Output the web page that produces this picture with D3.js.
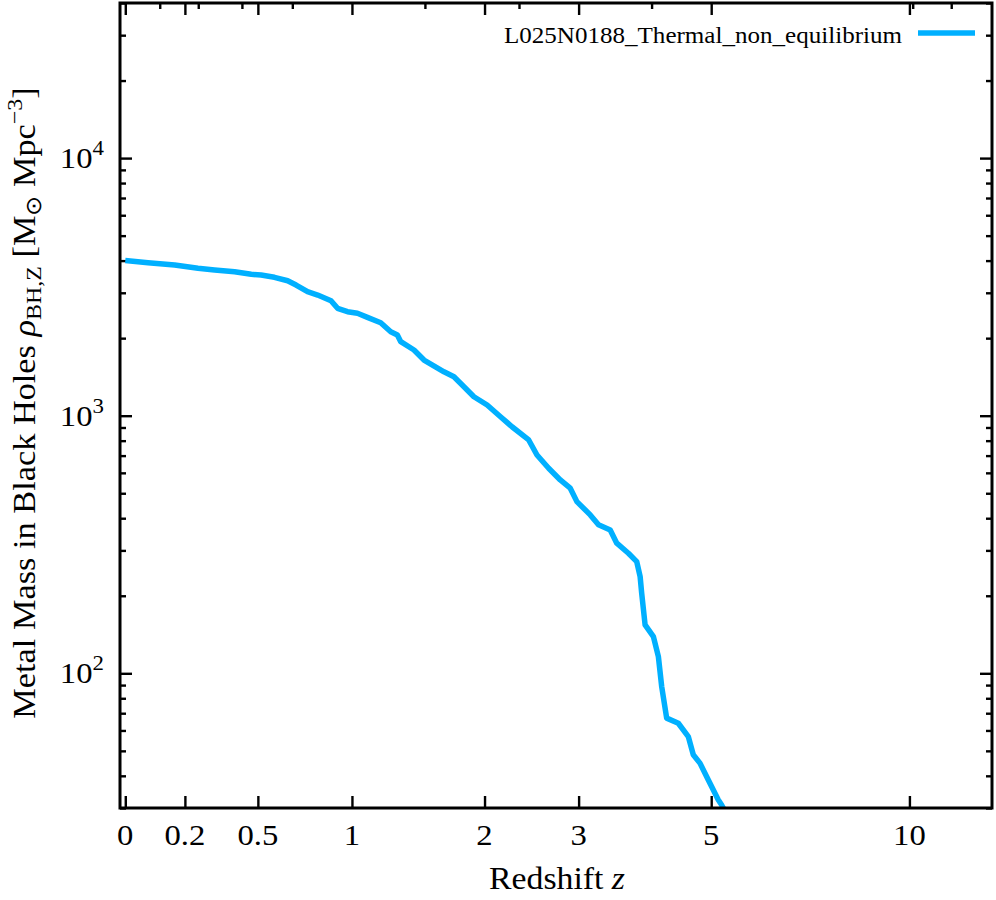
<!DOCTYPE html>
<html>
<head>
<meta charset="utf-8">
<script src="https://cdn.jsdelivr.net/npm/d3@7"></script>
<style>
  body { margin: 0; background: #fff; }
  svg { display: block; font-family: "Liberation Serif", "Times New Roman", serif; }
  .domain { display: none; }
  .tick line { stroke: #000; stroke-width: 2.4; }
</style>
</head>
<body>
<div id="chart"></div>
<script>
// values
const redshift = [0, 0.072, 0.163, 0.249, 0.314, 0.397, 0.470, 0.515, 0.578, 0.643,
    0.686, 0.746, 0.801, 0.876, 0.914, 0.973, 1.034, 1.097, 1.184, 1.252,
    1.298, 1.322, 1.418, 1.493, 1.650, 1.732, 1.817, 1.904, 2.024, 2.150,
    2.263, 2.434, 2.522, 2.650, 2.782, 2.899, 2.979, 3.145, 3.251, 3.406,
    3.495, 3.658, 3.778, 3.828, 3.851, 3.902, 4.028, 4.105, 4.157, 4.236,
    4.426, 4.594, 4.680, 4.797, 4.945, 5.037, 5.130, 5.192, 5.240];
const metalMass = [4000, 3924, 3845, 3733, 3677, 3621, 3538, 3516, 3445, 3342,
    3216, 3029, 2941, 2795, 2611, 2533, 2497, 2409, 2296, 2118,
    2057, 1938, 1799, 1645, 1481, 1417, 1296, 1185, 1100, 991,
    906, 805, 704, 625, 563, 523, 464, 412, 377, 360,
    320, 292.5, 271.4, 237.3, 204.6, 154.1, 138.8, 116.1, 88.8, 67.0,
    64.0, 56.8, 48.3, 44.8, 38.6, 35.3, 32.3, 30.9, 29.6];

const seriesName = "L025N0188_Thermal_non_equilibrium";
const zTicks = [0, 0.2, 0.5, 1, 2, 3, 5, 10];
const zTickLabels = ["0", "0.2", "0.5", "1", "2", "3", "5", "10"];
// top axis minor ticks sit at scale factor a = 0.9 ... 0.08
const aMinor = [0.9, 0.8, 0.7, 0.6, 0.4, 0.3, 0.2, 0.09, 0.08];
const yMajor = [100, 1000, 10000];
const yMajorExp = ["2", "3", "4"];
const zRange = [-0.016, 13.16];
const yRange = [30, 40000];

const LINE_COLOR = "#00b0ff";
const STRETCH = 1.09; // the reference glyphs are a bit wider than Liberation Serif

const margin = { top: 3, right: 4, bottom: 92, left: 120 };
const W = 996, H = 900;
const width = W - margin.left - margin.right;
const height = H - margin.top - margin.bottom;

const svg = d3.select("#chart").append("svg")
    .attr("width", W).attr("height", H);

const g = svg.append("g")
    .attr("transform", `translate(${margin.left},${margin.top})`);

// x is log(1+z)
const x = d3.scaleLog().domain([1 + zRange[0], 1 + zRange[1]]).range([0, width]);
const y = d3.scaleLog().domain(yRange).range([height, 0]);

g.append("clipPath").attr("id", "plot-clip")
    .append("rect").attr("width", width).attr("height", height);

const yMinor = [];
[10, 100, 1000, 10000].forEach(dec => {
    for (let k = 2; k <= 9; k++) {
        const v = dec * k;
        if (v >= yRange[0] && v <= yRange[1]) yMinor.push(v);
    }
});

// ticks, all pointing inward
const majorLen = 12, minorLen = 6;

g.append("g").attr("transform", `translate(0,${height})`)
    .call(d3.axisBottom(x).tickValues(zTicks.map(z => 1 + z)).tickSize(-majorLen).tickFormat(""));
g.append("g")
    .call(d3.axisTop(x).tickValues(zTicks.map(z => 1 + z)).tickSize(-majorLen).tickFormat(""));
g.append("g")
    .call(d3.axisTop(x).tickValues(aMinor.map(a => 1 / a)).tickSize(-minorLen).tickFormat(""));

g.append("g")
    .call(d3.axisLeft(y).tickValues(yMajor).tickSize(-majorLen).tickFormat(""));
g.append("g")
    .call(d3.axisLeft(y).tickValues(yMinor).tickSize(-minorLen).tickFormat(""));
g.append("g").attr("transform", `translate(${width},0)`)
    .call(d3.axisRight(y).tickValues(yMajor).tickSize(-majorLen).tickFormat(""));
g.append("g").attr("transform", `translate(${width},0)`)
    .call(d3.axisRight(y).tickValues(yMinor).tickSize(-minorLen).tickFormat(""));

// x tick labels
g.append("g").selectAll("text")
    .data(zTicks)
    .join("text")
    .attr("transform", d => `translate(${x(1 + d)},${height + 37}) scale(${STRETCH},1)`)
    .attr("text-anchor", "middle")
    .attr("font-size", 30)
    .text((d, i) => zTickLabels[i]);

// y tick labels 10^n
const yLab = g.append("g").selectAll("text")
    .data(yMajor)
    .join("text")
    .attr("transform", d => `translate(-16,${y(d) + 10}) scale(${STRETCH},1)`)
    .attr("text-anchor", "end")
    .attr("font-size", 30);
yLab.append("tspan").text("10");
yLab.append("tspan").attr("dy", -13).attr("font-size", 21).text((d, i) => yMajorExp[i]);

// series line
const line = d3.line()
    .x((d, i) => x(1 + redshift[i]))
    .y(d => y(d));

g.append("path")
    .datum(metalMass)
    .attr("clip-path", "url(#plot-clip)")
    .attr("fill", "none")
    .attr("stroke", LINE_COLOR)
    .attr("stroke-width", 5.5)
    .attr("stroke-linejoin", "round")
    .attr("d", line);

// frame
g.append("rect")
    .attr("width", width).attr("height", height)
    .attr("fill", "none").attr("stroke", "#000").attr("stroke-width", 3);

// legend
const legend = g.append("g");
legend.append("text")
    .attr("transform", `translate(782,40) scale(${STRETCH},1)`)
    .attr("text-anchor", "end")
    .attr("font-size", 23)
    .text(seriesName);
legend.append("line")
    .attr("x1", 798).attr("x2", 855)
    .attr("y1", 30).attr("y2", 30)
    .attr("stroke", LINE_COLOR).attr("stroke-width", 5.5);

// axis titles
const xTitle = svg.append("text")
    .attr("transform", `translate(557,889) scale(${STRETCH},1)`)
    .attr("text-anchor", "middle")
    .attr("font-size", 31);
xTitle.append("tspan").text("Redshift ");
xTitle.append("tspan").attr("font-style", "italic").text("z");

const yTitle = svg.append("text")
    .attr("transform", `translate(35,403) rotate(-90) scale(${STRETCH},1)`)
    .attr("text-anchor", "middle")
    .attr("font-size", 31.5);
yTitle.append("tspan").text("Metal Mass in Black Holes ");
yTitle.append("tspan").attr("font-style", "italic").text("ρ");
yTitle.append("tspan").attr("dy", 6).attr("font-size", 22).text("BH,Z");
yTitle.append("tspan").attr("dy", -6).text(" [M");
yTitle.append("tspan").attr("dy", 6).attr("font-size", 22).text("⊙");
yTitle.append("tspan").attr("dy", -6).text(" Mpc");
yTitle.append("tspan").attr("dy", -13).attr("font-size", 22).text("−3");
yTitle.append("tspan").attr("dy", 13).text("]");
</script>
</body>
</html>
